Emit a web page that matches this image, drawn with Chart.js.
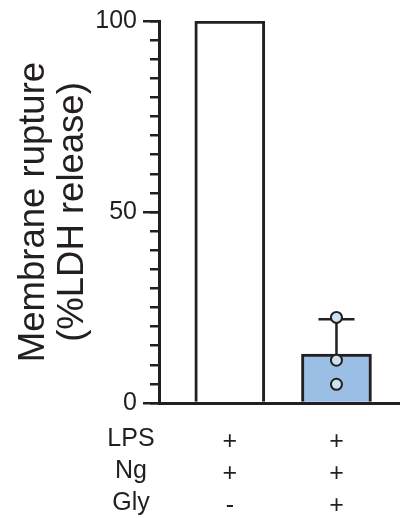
<!DOCTYPE html>
<html>
<head>
<meta charset="utf-8">
<script src="https://cdn.jsdelivr.net/npm/chart.js@4/dist/chart.umd.min.js"></script>
<style>
  html, body { margin: 0; padding: 0; background: #ffffff; }
  #wrap { width: 407px; height: 518px; }
</style>
</head>
<body>
<div id="wrap"><canvas id="c" width="407" height="518"></canvas></div>
<script>
// ---- data ----
const groupPositions = [0, 1];
const means = [100, 12.8];
const errUpper = [0, 9.1];
const replicates = [[], [22.4, 11.2, 4.9]];
const rowNames = ['LPS', 'Ng', 'Gly'];
const treatments = [['+', '+', '-'], ['+', '+', '+']];
const labeledTicks = [0, 50, 100];
const yTitle = ['Membrane rupture', '(%LDH release)'];

// ---- styles ----
const ink = '#231f20';
const barFills = ['#ffffff', '#9bbfe4'];
const pointFill = '#cde1f3';
const fontFamily = "'Liberation Sans', Arial, Helvetica, sans-serif";

const barData = groupPositions.map((x, i) => ({ x: x, y: means[i] }));
const pointData = [];
replicates.forEach((vals, i) => vals.forEach(v => pointData.push({ x: groupPositions[i], y: v })));

const errorBarPlugin = {
  id: 'errorBars',
  afterDatasetDraw(chart, args) {
    if (args.index !== 0) return;
    const { ctx, scales: { x, y } } = chart;
    ctx.save();
    ctx.strokeStyle = ink;
    ctx.lineWidth = 2.5;
    groupPositions.forEach((gx, i) => {
      if (!errUpper[i]) return;
      const px = x.getPixelForValue(gx);
      const y0 = y.getPixelForValue(means[i]);
      const y1 = y.getPixelForValue(means[i] + errUpper[i]);
      const half = 18;
      ctx.beginPath();
      ctx.moveTo(px, y0);
      ctx.lineTo(px, y1);
      ctx.moveTo(px - half, y1);
      ctx.lineTo(px + half, y1);
      ctx.stroke();
    });
    ctx.restore();
  }
};

const rowLabelPlugin = {
  id: 'rowLabels',
  afterDraw(chart) {
    const { ctx, scales: { x } } = chart;
    ctx.save();
    ctx.font = '25px ' + fontFamily;
    ctx.fillStyle = ink;
    ctx.textAlign = 'center';
    ctx.textBaseline = 'middle';
    rowNames.forEach((name, i) => {
      ctx.fillText(name, 131, x.top + 20 + 16 + 32 * i);
    });
    ctx.restore();
  }
};

new Chart(document.getElementById('c'), {
  type: 'bar',
  data: {
    datasets: [
      {
        type: 'bar',
        data: barData,
        backgroundColor: barFills,
        borderColor: ink,
        borderWidth: 3,
        barThickness: 70,
        order: 2
      },
      {
        type: 'scatter',
        data: pointData,
        pointRadius: 5.5,
        pointBorderWidth: 2,
        pointBackgroundColor: pointFill,
        pointBorderColor: ink,
        order: 1
      }
    ]
  },
  options: {
    responsive: false,
    animation: false,
    layout: { padding: { top: 21, left: 0, right: 0, bottom: 0 } },
    plugins: { legend: { display: false }, tooltip: { enabled: false } },
    scales: {
      x: {
        type: 'linear',
        offset: false,
        min: -0.6636,
        max: 1.5909,
        afterBuildTicks(scale) { scale.ticks = groupPositions.map(v => ({ value: v })); },
        afterFit(scale) { scale.height = 115; },
        grid: { display: false, offset: false },
        border: { display: true, color: ink, width: 3 },
        ticks: {
          autoSkip: false,
          maxRotation: 0,
          padding: 15,
          color: ink,
          font: { family: fontFamily, size: 25, lineHeight: '32px' },
          callback(value) {
            const i = groupPositions.indexOf(value);
            return i >= 0 ? treatments[i] : '';
          }
        }
      },
      y: {
        position: 'left',
        weight: 1,
        min: 0,
        max: 100,
        afterFit(scale) { scale.width = 159; scale.paddingTop = 0; scale.paddingBottom = 0; },
        border: { display: true, color: ink, width: 3 },
        grid: { drawOnChartArea: false, drawTicks: true, tickLength: 9, color: ink, tickColor: ink, tickWidth: 2.5, lineWidth: 2.5 },
        ticks: {
          stepSize: 5,
          autoSkip: false,
          padding: 13,
          color: ink,
          font: { family: fontFamily, size: 25 },
          callback(value) { return labeledTicks.includes(value) ? String(value) : ''; }
        },
        title: {
          display: true,
          text: yTitle,
          color: ink,
          padding: { top: 14, bottom: 0 },
          font: { family: fontFamily, size: 36.5, lineHeight: '39px' }
        }
      },
      y2: {
        position: 'left',
        weight: 0,
        min: 0,
        max: 100,
        afterFit(scale) { scale.width = 0; scale.paddingTop = 0; scale.paddingBottom = 0; },
        border: { display: false },
        grid: { drawOnChartArea: false, drawTicks: true, tickLength: 16, color: ink, tickColor: ink, tickWidth: 2.5, lineWidth: 2.5 },
        ticks: { stepSize: 50, display: false }
      }
    }
  },
  plugins: [errorBarPlugin, rowLabelPlugin]
});
</script>
</body>
</html>
